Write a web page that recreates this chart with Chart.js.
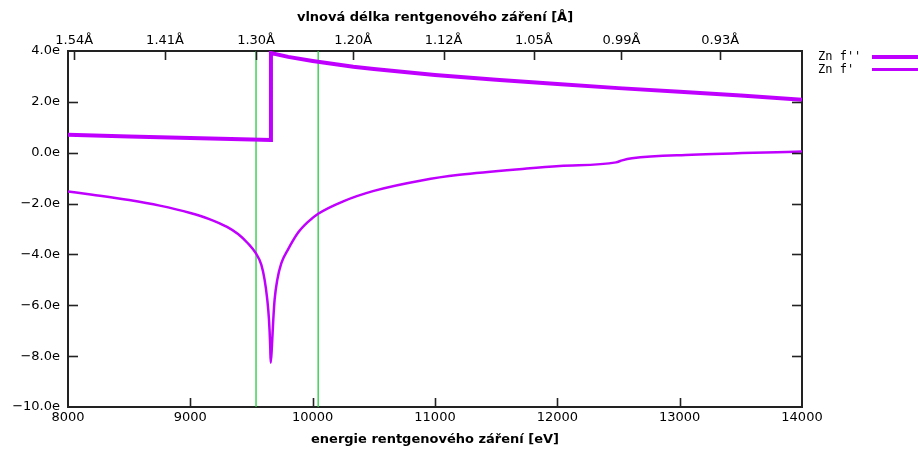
<!DOCTYPE html>
<html>
<head>
<meta charset="utf-8">
<script src="https://cdn.jsdelivr.net/npm/chart.js@4.4.1/dist/chart.umd.min.js"></script>
<style>
  html, body { margin: 0; padding: 0; background: #fff; }
</style>
</head>
<body>
<canvas id="myChart" width="918" height="450"></canvas>
<script>
// f'' (absorption part), with the K-edge step at ~9659 eV
const fppEnergy = [8000, 8500, 9000, 9500, 9658, 9659, 9800, 10000, 10332, 10500, 11000, 11500, 12000, 12500, 13000, 13500, 14000];
const fppValue  = [0.71, 0.64, 0.58, 0.52, 0.50, 3.92, 3.77, 3.61, 3.38, 3.29, 3.06, 2.87, 2.70, 2.54, 2.40, 2.25, 2.08];

// f' (dispersive part)
const fpEnergy = [8000, 8200, 8500, 8750, 9000, 9150, 9300, 9390, 9470, 9535, 9580, 9607, 9629, 9643, 9653, 9657,
                  9667, 9678, 9689, 9711, 9744, 9798, 9880, 9962, 10045, 10250, 10500, 10900, 11200, 11750, 12020,
                  12480, 12530, 12610, 13100, 14000];
const fpValue  = [-1.52, -1.65, -1.86, -2.08, -2.37, -2.60, -2.92, -3.20, -3.56, -3.95, -4.40, -4.99, -5.78, -6.57, -7.60, -8.26,
                  -7.60, -6.57, -5.78, -4.99, -4.34, -3.81, -3.15, -2.72, -2.40, -1.91, -1.50, -1.08, -0.87, -0.62, -0.52,
                  -0.38, -0.30, -0.22, -0.08, 0.05];

// green marker energies
const markerEnergies = [9537, 10045];

// top axis: wavelength tick labels [Å]
const wavelengthTicks = [1.54, 1.41, 1.30, 1.20, 1.12, 1.05, 0.99, 0.93];
const HC = 12398.4;

const xMin = 8000, xMax = 14000;
const yMin = -10, yMax = 4;

const purple = '#c000ff';
const green = '#22cc3c';
const tickFont = { family: 'DejaVu Sans', size: 13 };
const titleFont = { family: 'DejaVu Sans', size: 13, weight: 'bold' };

let toPoints = (xs, ys) => xs.map((x, i) => ({ x: x, y: ys[i] }));

let datasets = [
    { label: "Zn f''", data: toPoints(fppEnergy, fppValue), borderColor: purple, borderWidth: 4, legendWidth: 4 },
    { label: "Zn f'", data: toPoints(fpEnergy, fpValue), borderColor: purple, borderWidth: 2.5, legendWidth: 3,
      cubicInterpolationMode: 'monotone' }
];
markerEnergies.forEach(e => {
    datasets.push({ label: '', data: [{ x: e, y: yMin }, { x: e, y: yMax }], borderColor: green, borderWidth: 1.3, noLegend: true });
});
datasets.forEach(d => {
    d.showLine = true;
    d.pointRadius = 0;
    d.fill = false;
    d.borderJoinStyle = 'miter';
});

// gnuplot-like ticks pointing into the plot, mirrored on the right
const innerTicks = {
    id: 'innerTicks',
    afterDatasetsDraw(chart) {
        const { ctx, chartArea: a, scales } = chart;
        ctx.save();
        ctx.strokeStyle = '#222';
        ctx.lineWidth = 1.6;
        let seg = (x1, y1, x2, y2) => { ctx.beginPath(); ctx.moveTo(x1, y1); ctx.lineTo(x2, y2); ctx.stroke(); };
        scales.x.ticks.forEach(t => {
            const px = Math.round(scales.x.getPixelForValue(t.value)) + 0.5;
            if (t.value > xMin && t.value < xMax) seg(px, a.bottom, px, a.bottom - 9);
        });
        scales.x2.ticks.forEach(t => {
            const px = Math.round(scales.x2.getPixelForValue(t.value)) + 0.5;
            seg(px, a.top, px, a.top + 9);
        });
        scales.y.ticks.forEach(t => {
            const py = Math.round(scales.y.getPixelForValue(t.value)) + 0.5;
            if (t.value > yMin && t.value < yMax) {
                seg(a.left, py, a.left + 10, py);
                seg(a.right, py, a.right - 10, py);
            }
        });
        ctx.restore();
    },
    afterDraw(chart) {
        // legend on the right: text then line sample
        const { ctx } = chart;
        ctx.save();
        ctx.font = '12px "DejaVu Sans Mono"';
        ctx.fillStyle = '#000';
        ctx.textBaseline = 'middle';
        let row = 0;
        chart.data.datasets.forEach(d => {
            if (d.noLegend) return;
            const y = 57 + row * 12.5;
            ctx.fillText(d.label, 818, y);
            ctx.strokeStyle = d.borderColor;
            ctx.lineWidth = d.legendWidth;
            ctx.beginPath(); ctx.moveTo(872, y); ctx.lineTo(918, y); ctx.stroke();
            row++;
        });
        ctx.restore();
    }
};

new Chart('myChart', {
    type: 'scatter',
    data: { datasets: datasets },
    options: {
        responsive: false,
        animation: false,
        devicePixelRatio: 1,
        layout: { padding: { left: 0, right: 116, top: 0, bottom: 0 } },
        plugins: {
            legend: { display: false },
            tooltip: { enabled: false }
        },
        scales: {
            x: {
                type: 'linear',
                position: 'bottom',
                min: xMin, max: xMax,
                afterFit: s => { s.height = 43; },
                ticks: { stepSize: 1000, color: '#000', font: tickFont, padding: 3, maxRotation: 0,
                         callback: v => String(v) },
                grid: { drawOnChartArea: false, drawTicks: false },
                border: { display: true, color: '#222', width: 2 },
                title: { display: true, text: 'energie rentgenového záření [eV]', color: '#000', font: titleFont,
                         padding: { top: 0, bottom: 3 } }
            },
            x2: {
                type: 'linear',
                position: 'top',
                min: xMin, max: xMax,
                afterFit: s => { s.height = 51; },
                afterBuildTicks: s => { s.ticks = wavelengthTicks.map(l => ({ value: HC / l })); },
                ticks: { color: '#000', font: tickFont, padding: 3, maxRotation: 0, autoSkip: false,
                         callback: (v, i) => wavelengthTicks[i].toFixed(2) + 'Å' },
                grid: { drawOnChartArea: false, drawTicks: false },
                border: { display: true, color: '#222', width: 2 },
                title: { display: true, text: 'vlnová délka rentgenového záření [Å]', color: '#000', font: titleFont,
                         padding: { top: 10, bottom: 0 } }
            },
            y: {
                type: 'linear',
                position: 'left',
                min: yMin, max: yMax,
                afterFit: s => { s.width = 68; },
                ticks: { stepSize: 2, color: '#000', font: tickFont, padding: 8,
                         callback: v => (v < 0 ? '−' : '') + Math.abs(v).toFixed(1) + 'e' },
                grid: { drawOnChartArea: false, drawTicks: false },
                border: { display: true, color: '#222', width: 2 }
            },
            y2: {
                type: 'linear',
                position: 'right',
                min: yMin, max: yMax,
                afterFit: s => { s.width = 0; },
                ticks: { display: false },
                grid: { drawOnChartArea: false, drawTicks: false },
                border: { display: true, color: '#222', width: 2 }
            }
        }
    },
    plugins: [innerTicks]
});
</script>
</body>
</html>
